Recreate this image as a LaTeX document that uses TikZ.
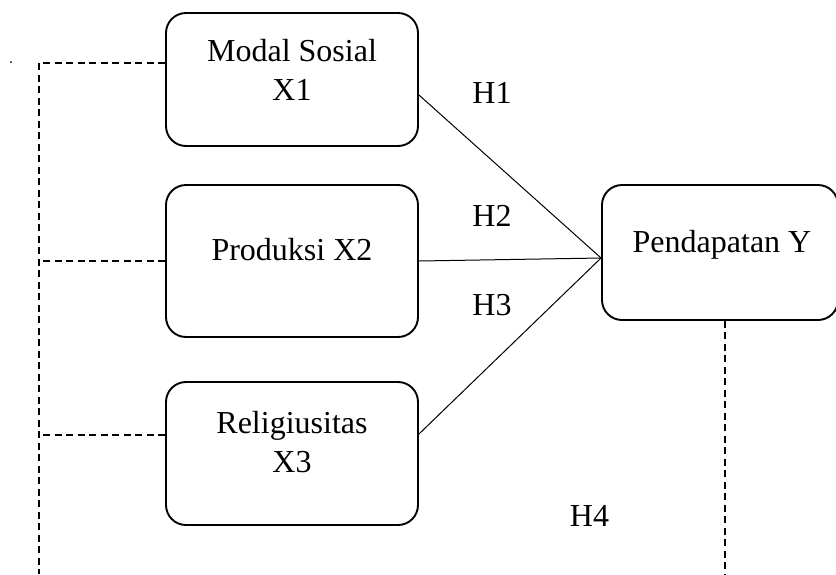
\documentclass[tikz,border=0pt]{standalone}
\usepackage{fontspec}
\setmainfont{Liberation Serif}
\tikzset{every picture/.style={x=1pt,y=-1pt},
  varbox/.style={draw=black,line width=1.9pt,rounded corners=20pt,minimum width=252pt},
  lbl/.style={font=\fontsize{32}{39}\selectfont,align=center,inner sep=0pt},
  link/.style={line width=1pt},
  dashlink/.style={line width=1.8pt,dash pattern=on 7pt off 4.5pt}}

\begin{document}
\begin{tikzpicture}
        \useasboundingbox (0,0) rectangle (836,574);

        % Define the positions of the boxes
        \node[varbox,minimum height=133pt] (x1) at (292,79.5) {};
        \node[varbox,minimum height=152pt] (x2) at (292,261) {};
        \node[varbox,minimum height=143pt] (x3) at (292,453.5) {};
        \node[varbox,minimum width=236pt,minimum height=135pt] (y) at (720,252.5) {};

        % Texts inside the boxes
        \node[lbl] (tx1) at (292,70) {Modal Sosial\\X1};
        \node[lbl] (tx2) at (292,250) {Produksi X2};
        \node[lbl] (tx3) at (292,442) {Religiusitas\\X3};
        \node[lbl] (ty) at (722,245) {Pendapatan Y};

        % Hypothesis labels
        \node[lbl] (h1) at (492,92.5) {H1};
        \node[lbl] (h2) at (492,215.5) {H2};
        \node[lbl] (h3) at (492,305.5) {H3};
        \node[lbl,fill=white,minimum width=83pt,minimum height=62pt] (h4) at (589.5,516) {H4};

        % Draw the paths
        \coordinate (meet) at ([yshift=-5.5pt]y.west);
        \draw[link] ([yshift=-15.5pt]x1.east) -- (meet);
        \draw[link] (x2.east) -- (meet);
        \draw[link] ([yshift=19.5pt]x3.east) -- (meet);

        % Dashed lines
        \coordinate (lt) at (39,63);
        \coordinate (lb) at (39,574);
        \coordinate (rb) at (725,574);
        \coordinate (x3w) at ([yshift=18.5pt]x3.west);
        \draw[dashlink] ([yshift=16.5pt]x1.west) -- (lt) -- (lb);
        \draw[dashlink] (x2.west) -- (lt |- x2.west);
        \draw[dashlink] (x3w) -- (lt |- x3w);
        \draw[dashlink] ([xshift=5pt]y.south) -- (rb);

        \fill (11,62) circle (1pt);
    \end{tikzpicture}
\end{document}
